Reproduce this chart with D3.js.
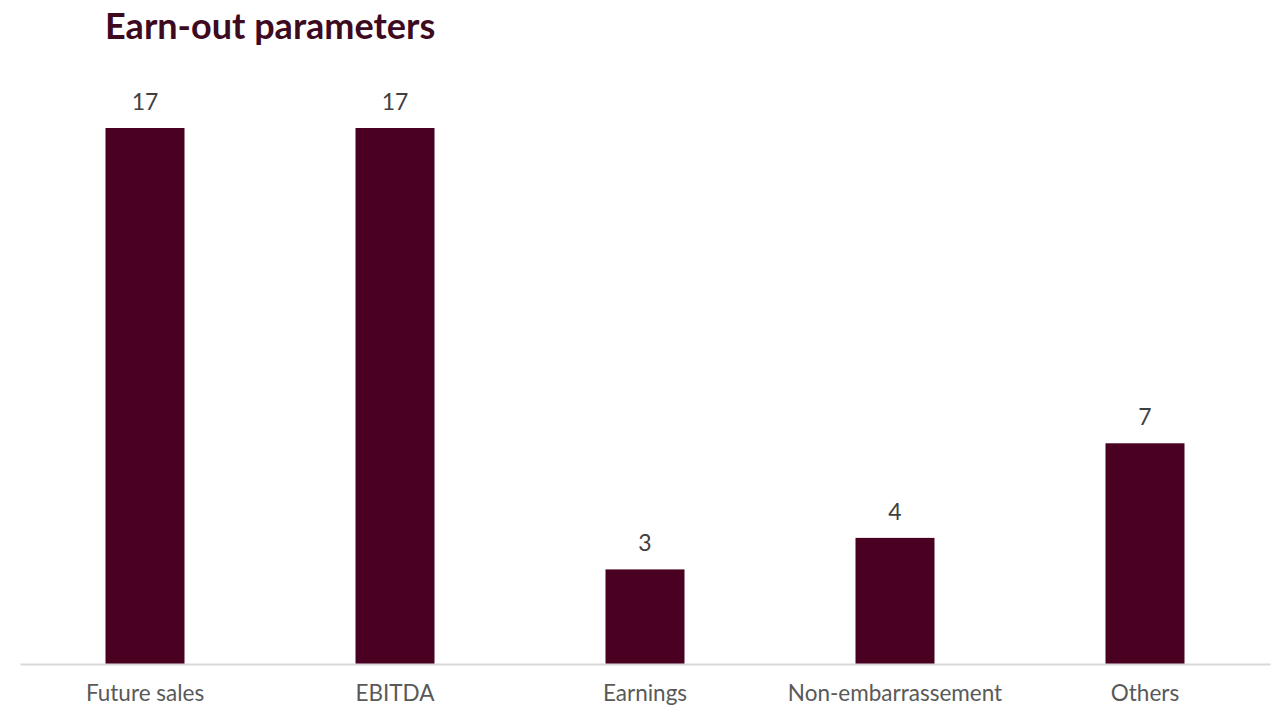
<!DOCTYPE html>
<html><head><meta charset="utf-8">
<script src="https://cdn.jsdelivr.net/npm/d3@7"></script>
<style>body{margin:0;background:#fff}svg{display:block}</style>
</head><body>
<svg id="c" width="1273" height="707"></svg>
<script>
const categories = ["Future sales","EBITDA","Earnings","Non-embarrassement","Others"];
const values = [17,17,3,4,7];
const title = "Earn-out parameters";

const svg = d3.select("#c");
const x = d3.scaleBand().domain(categories).range([20,1270]).paddingInner(0).paddingOuter(0);
const y = d3.scaleLinear().domain([0,17]).range([664,128]);
const bw = 79;

svg.append("text").attr("x",105).attr("y",39)
  .attr("font-family","Lato").attr("font-weight","bold").attr("font-size",36)
  .attr("fill","#3d0a1f").text(title);

svg.selectAll("rect.bar").data(values).join("rect").attr("class","bar")
  .attr("x",(d,i)=>x(categories[i])+x.bandwidth()/2-bw/2)
  .attr("width",bw)
  .attr("y",d=>y(d)).attr("height",d=>y(0)-y(d))
  .attr("fill","#4a0020");

svg.selectAll("text.val").data(values).join("text").attr("class","val")
  .attr("x",(d,i)=>x(categories[i])+x.bandwidth()/2)
  .attr("y",d=>y(d)-18)
  .attr("text-anchor","middle").attr("font-family","Lato").attr("font-size",23)
  .attr("fill","#404040").text(d=>d);

const ax = svg.append("g").attr("transform","translate(0,664)")
  .call(d3.axisBottom(x).tickSize(0).tickPadding(21));
ax.select(".domain").attr("stroke","#d9d9d9").attr("stroke-width",2);
ax.selectAll("text").attr("font-family","Lato").attr("font-size",22.5).attr("fill","#595959");
</script>
</body></html>
